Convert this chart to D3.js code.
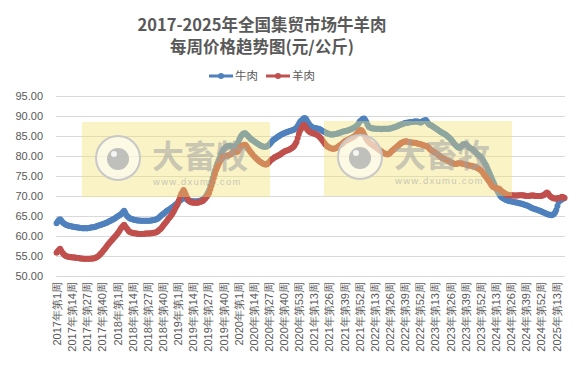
<!DOCTYPE html>
<html>
<head>
<meta charset="utf-8">
<script src="https://cdn.jsdelivr.net/npm/d3@7"></script>
<style>
  body { margin: 0; background: #fff; }
  svg { display: block; font-family: "Liberation Sans", "Noto Sans CJK SC", sans-serif; }
  .grid line { stroke: #d9d9d9; stroke-width: 1; shape-rendering: crispEdges; }
  .tick text { fill: #595959; }
</style>
</head>
<body>
<script>
// weekly price, 元/公斤
var years = [2017, 2018, 2019, 2020, 2021, 2022, 2023, 2024, 2025];
var weeksInYear = [52, 52, 52, 53, 52, 52, 52, 52, 20];
var yTicks = [50, 55, 60, 65, 70, 75, 80, 85, 90, 95];

var beef2017 = [63.2,63.6,64.0,64.2,63.9,63.5,63.2,63.0,62.8,62.7,62.6,62.5,62.5,62.4,62.3,62.3,62.2,62.2,62.1,62.1,62.0,62.0,62.0,61.9,62.0,62.0,61.9,62.0,62.0,62.1,62.1,62.2,62.2,62.3,62.4,62.5,62.6,62.7,62.8,62.9,63.0,63.1,63.2,63.3,63.5,63.6,63.8,63.9,64.1,64.2,64.4,64.6];
var beef2018 = [64.8,65.0,65.2,65.4,65.6,66.0,66.3,65.8,65.2,64.9,64.6,64.4,64.3,64.2,64.1,64.0,64.0,63.9,63.9,63.9,63.8,63.8,63.8,63.8,63.8,63.8,63.8,63.8,63.8,63.9,63.9,64.0,64.0,64.1,64.2,64.4,64.6,64.9,65.2,65.4,65.6,65.8,66.1,66.3,66.5,66.7,66.9,67.1,67.3,67.5,67.8,68.0];
var beef2019 = [68.3,68.6,68.9,69.1,69.3,69.5,69.6,69.4,69.1,68.9,68.8,68.8,68.7,68.7,68.6,68.6,68.6,68.7,68.7,68.8,68.9,69.0,69.2,69.5,69.8,70.3,70.9,71.5,72.5,73.5,74.5,75.5,76.4,77.3,78.1,78.8,79.5,80.3,81.0,81.5,81.9,82.2,82.4,82.5,82.5,82.6,82.5,82.2,82.0,82.3,82.6,83.0];
var beef2020 = [83.5,84.2,84.8,85.2,85.5,85.7,85.7,85.4,85.1,84.8,84.5,84.2,84.0,83.8,83.6,83.4,83.2,83.0,82.8,82.6,82.5,82.4,82.3,82.3,82.3,82.5,82.7,83.0,83.3,83.7,84.0,84.2,84.4,84.6,84.8,85.0,85.2,85.4,85.5,85.6,85.8,85.9,86.0,86.1,86.2,86.3,86.4,86.5,86.6,86.8,87.0,87.5,88.0];
var beef2021 = [88.5,88.8,89.0,89.4,89.5,89.3,88.8,88.3,87.9,87.5,87.3,87.1,87.0,87.0,86.9,86.9,86.8,86.7,86.5,86.3,86.2,86.0,85.9,85.7,85.6,85.5,85.4,85.4,85.4,85.4,85.5,85.5,85.6,85.7,85.8,85.9,86.0,86.1,86.2,86.2,86.3,86.4,86.5,86.6,86.7,86.9,87.0,87.2,87.4,87.6,88.0,88.5];
var beef2022 = [88.8,89.0,89.3,89.4,89.0,88.5,87.8,87.3,87.1,87.0,86.9,86.9,86.9,86.8,86.8,86.8,86.8,86.8,86.7,86.8,86.8,86.8,86.8,86.8,86.8,86.9,86.9,87.0,87.1,87.2,87.3,87.4,87.5,87.7,87.8,87.9,88.0,88.1,88.2,88.3,88.3,88.4,88.4,88.5,88.5,88.5,88.6,88.6,88.6,88.6,88.5,88.4];
var beef2023 = [88.4,88.6,88.8,88.9,89.0,88.6,88.2,87.9,87.7,87.6,87.4,87.2,87.0,86.8,86.6,86.4,86.2,86.0,85.8,85.7,85.5,85.3,85.1,84.8,84.6,84.3,84.0,83.6,83.2,82.9,82.6,82.3,82.1,82.0,82.3,82.6,82.8,83.0,83.0,82.8,82.5,82.2,82.0,81.8,81.7,81.5,81.2,80.9,80.5,80.3,80.0,79.8];
var beef2024 = [79.4,79.0,78.5,78.0,77.5,76.8,76.2,75.5,74.8,74.1,73.5,72.8,72.1,71.5,71.0,70.5,70.0,69.7,69.5,69.3,69.2,69.0,68.9,68.8,68.7,68.7,68.6,68.5,68.5,68.4,68.4,68.3,68.2,68.1,68.1,68.0,67.9,67.8,67.7,67.6,67.5,67.3,67.2,67.0,66.9,66.8,66.7,66.6,66.5,66.4,66.3,66.2];
var beef2025 = [66.0,65.9,65.8,65.6,65.5,65.4,65.3,65.3,65.2,65.3,65.5,65.9,66.5,67.5,68.5,68.8,69.0,69.2,69.4,69.5];

var mutton2017 = [55.8,56.2,56.5,56.8,56.3,55.8,55.5,55.2,55.0,54.9,54.8,54.8,54.7,54.7,54.6,54.6,54.6,54.5,54.5,54.5,54.4,54.4,54.4,54.3,54.3,54.3,54.3,54.3,54.3,54.3,54.4,54.4,54.4,54.5,54.6,54.8,55.0,55.3,55.6,55.9,56.3,56.6,57.0,57.4,57.8,58.1,58.5,58.8,59.1,59.5,59.8,60.1];
var mutton2018 = [60.5,60.9,61.3,61.8,62.2,62.5,62.8,62.4,62.0,61.6,61.2,61.0,60.9,60.8,60.7,60.7,60.6,60.6,60.5,60.5,60.5,60.5,60.5,60.5,60.6,60.6,60.6,60.6,60.6,60.7,60.7,60.8,60.8,60.9,61.0,61.2,61.5,61.7,62.0,62.4,62.8,63.1,63.5,63.9,64.3,64.6,65.0,65.4,65.9,66.4,67.0,67.5];
var mutton2019 = [68.0,68.9,69.8,70.5,71.0,71.5,71.0,70.3,69.6,69.0,68.7,68.5,68.4,68.4,68.3,68.3,68.3,68.3,68.4,68.5,68.6,68.7,68.9,69.2,69.5,69.9,70.3,70.8,71.7,72.6,73.5,74.5,75.5,76.5,77.2,77.9,78.5,79.0,79.4,79.8,79.9,80.0,80.0,80.1,80.2,80.4,80.5,80.8,81.0,81.2,81.1,81.0];
var mutton2020 = [81.3,81.8,82.2,82.5,82.7,82.8,82.8,82.5,82.0,81.6,81.2,80.8,80.5,80.1,79.8,79.5,79.2,79.0,78.7,78.5,78.3,78.1,78.0,77.9,77.9,78.0,78.3,78.6,79.0,79.2,79.4,79.6,79.8,79.9,80.1,80.2,80.4,80.6,80.8,81.0,81.2,81.3,81.4,81.5,81.6,81.8,82.0,82.2,82.5,83.0,83.5,84.5,85.5];
var mutton2021 = [86.3,86.8,87.3,87.8,87.6,87.2,86.7,86.3,86.1,85.9,85.8,85.7,85.6,85.5,85.4,85.2,85.0,84.7,84.4,84.0,83.6,83.2,82.8,82.5,82.3,82.1,82.0,81.9,81.8,81.8,81.9,82.0,82.2,82.4,82.6,82.8,83.0,83.3,83.5,83.8,83.9,84.0,84.2,84.3,84.5,84.6,84.8,85.0,85.3,85.6,86.0,86.3];
var mutton2022 = [86.5,86.4,86.0,85.4,84.8,84.3,83.8,83.5,83.2,83.0,82.8,82.6,82.4,82.2,82.0,81.8,81.5,81.3,81.1,80.9,80.7,80.6,80.5,80.4,80.5,80.7,81.0,81.3,81.5,81.8,82.0,82.3,82.5,82.8,83.0,83.3,83.4,83.5,83.6,83.7,83.6,83.5,83.5,83.4,83.4,83.3,83.3,83.3,83.2,83.1,83.0,83.0];
var mutton2023 = [82.9,82.8,82.6,82.6,82.5,82.5,82.2,81.9,81.6,81.4,81.2,81.0,80.8,80.7,80.5,80.2,80.0,79.7,79.5,79.4,79.3,79.1,79.0,78.8,78.6,78.5,78.3,78.2,78.1,78.0,78.0,78.1,78.2,78.2,78.2,78.1,78.0,78.0,77.9,77.8,77.7,77.6,77.6,77.5,77.5,77.4,77.3,77.2,77.0,76.9,76.7,76.5];
var mutton2024 = [76.2,75.8,75.4,75.0,74.6,74.2,73.8,73.4,72.9,72.5,72.2,72.1,72.0,71.9,71.9,71.8,71.5,71.2,71.0,70.8,70.6,70.4,70.3,70.3,70.2,70.2,70.2,70.1,70.1,70.1,70.1,70.1,70.2,70.2,70.2,70.2,70.1,70.1,70.0,70.0,70.0,70.0,70.1,70.1,70.1,70.1,70.0,70.0,70.0,70.0,70.0,70.0];
var mutton2025 = [70.1,70.2,70.4,70.6,70.9,70.6,70.2,69.9,69.7,69.5,69.4,69.4,69.4,69.4,69.5,69.5,69.6,69.8,69.7,69.5];

var beef = [].concat(beef2017, beef2018, beef2019, beef2020, beef2021, beef2022, beef2023, beef2024, beef2025);
var mutton = [].concat(mutton2017, mutton2018, mutton2019, mutton2020, mutton2021, mutton2022, mutton2023, mutton2024, mutton2025);

// category labels like "2017年第1周"
var weeks = [];
years.forEach(function(y, k) {
  for (var w = 1; w <= weeksInYear[k]; w++) weeks.push(y + "年第" + w + "周");
});

var series = [
  { name: "牛肉", color: "#4f81bd", values: beef },
  { name: "羊肉", color: "#c0504d", values: mutton }
];

var width = 582, height = 368;
var plot = { left: 56, right: 565, top: 96, bottom: 276 };

var svg = d3.select("body").append("svg")
    .attr("width", width)
    .attr("height", height);

var x = d3.scalePoint()
    .domain(weeks)
    .range([plot.left, plot.right])
    .padding(0.5);

var y = d3.scaleLinear()
    .domain([50, 95])
    .range([plot.bottom, plot.top]);

// gridlines
svg.append("g")
    .attr("class", "grid")
  .selectAll("line")
    .data(yTicks)
  .enter().append("line")
    .attr("x1", plot.left)
    .attr("x2", plot.right)
    .attr("y1", function(d) { return Math.round(y(d)) + 0.5; })
    .attr("y2", function(d) { return Math.round(y(d)) + 0.5; });

// y axis labels
var yAxis = d3.axisLeft(y)
    .tickValues(yTicks)
    .tickFormat(d3.format(".2f"))
    .tickSize(0)
    .tickPadding(0);

svg.append("g")
    .attr("transform", "translate(43,0)")
    .call(yAxis)
    .call(function(g) { g.select(".domain").remove(); })
  .selectAll("text")
    .style("font-size", "11px");

// x axis labels, one every 13 weeks, rotated
var xAxis = d3.axisBottom(x)
    .tickValues(weeks.filter(function(d, i) { return i % 13 === 0; }))
    .tickSize(0)
    .tickPadding(0);

svg.append("g")
    .attr("transform", "translate(0," + (plot.bottom + 6) + ")")
    .call(xAxis)
    .call(function(g) { g.select(".domain").remove(); })
  .selectAll("text")
    .style("font-size", "11px")
    .attr("text-anchor", "end")
    .attr("dy", "0.35em")
    .attr("y", 0)
    .attr("transform", "rotate(-90)");

// lines with a marker on every week
var line = d3.line()
    .x(function(d, i) { return x(weeks[i]); })
    .y(function(d) { return y(d); });

series.forEach(function(s) {
  svg.append("path")
      .datum(s.values)
      .attr("fill", "none")
      .attr("stroke", s.color)
      .attr("stroke-width", 3.5)
      .attr("stroke-linejoin", "round")
      .attr("d", line);

  svg.append("g")
    .selectAll("circle")
      .data(s.values)
    .enter().append("circle")
      .attr("cx", function(d, i) { return x(weeks[i]); })
      .attr("cy", function(d) { return y(d); })
      .attr("r", 3)
      .attr("fill", s.color);
});

// watermarks (dxumu logo boxes), sitting over the lines
var marks = [{ x: 82, y: 122, w: 188, h: 75 }, { x: 324, y: 121, w: 188, h: 75 }];

marks.forEach(function(m) {
  var g = svg.append("g");
  g.append("rect")
      .attr("x", m.x).attr("y", m.y)
      .attr("width", m.w).attr("height", m.h)
      .attr("fill", "#f0e070")
      .attr("fill-opacity", 0.4);
  g.append("circle")
      .attr("cx", m.x + 36).attr("cy", m.y + 36)
      .attr("r", 22)
      .attr("fill", "#fff").attr("fill-opacity", 0.55)
      .attr("stroke", "#c8c8c8").attr("stroke-width", 2);
  g.append("circle")
      .attr("cx", m.x + 36).attr("cy", m.y + 37)
      .attr("r", 11)
      .attr("fill", "#b4b4b4").attr("fill-opacity", 0.85);
  g.append("circle")
      .attr("cx", m.x + 32).attr("cy", m.y + 32)
      .attr("r", 3)
      .attr("fill", "#f4f4f4");
  g.append("text")
      .attr("x", m.x + 70).attr("y", m.y + 46)
      .attr("font-family", "Noto Sans CJK SC")
      .attr("font-weight", 700)
      .attr("font-size", 32)
      .attr("fill", "#a0a0a0").attr("fill-opacity", 0.55)
      .text("大畜牧");
  g.append("text")
      .attr("x", m.x + 71).attr("y", m.y + 63)
      .attr("font-size", 9.5)
      .attr("letter-spacing", 1.3)
      .attr("fill", "#a0a0a0").attr("fill-opacity", 0.55)
      .text("www.dxumu.com");
});

// title
svg.append("text")
    .attr("x", 262).attr("y", 31)
    .attr("text-anchor", "middle")
    .attr("font-family", "Noto Sans CJK SC")
    .attr("font-weight", 700)
    .attr("font-size", 16.5)
    .attr("fill", "#595959")
    .text("2017-2025年全国集贸市场牛羊肉");

svg.append("text")
    .attr("x", 262).attr("y", 53)
    .attr("text-anchor", "middle")
    .attr("font-family", "Noto Sans CJK SC")
    .attr("font-weight", 700)
    .attr("font-size", 16.5)
    .attr("fill", "#595959")
    .text("每周价格趋势图(元/公斤)");

// legend
var legend = svg.selectAll(".legend")
    .data(series)
  .enter().append("g")
    .attr("class", "legend")
    .attr("transform", function(d, i) { return "translate(" + (209 + i * 57) + ",76)"; });

legend.append("line")
    .attr("x1", 0).attr("x2", 24)
    .attr("stroke", function(d) { return d.color; })
    .attr("stroke-width", 3);

legend.append("circle")
    .attr("cx", 12)
    .attr("r", 3)
    .attr("fill", function(d) { return d.color; });

legend.append("text")
    .attr("x", 26).attr("dy", "0.35em")
    .attr("font-family", "Noto Sans CJK SC")
    .attr("font-size", 11.5)
    .attr("fill", "#595959")
    .text(function(d) { return d.name; });
</script>
</body>
</html>
